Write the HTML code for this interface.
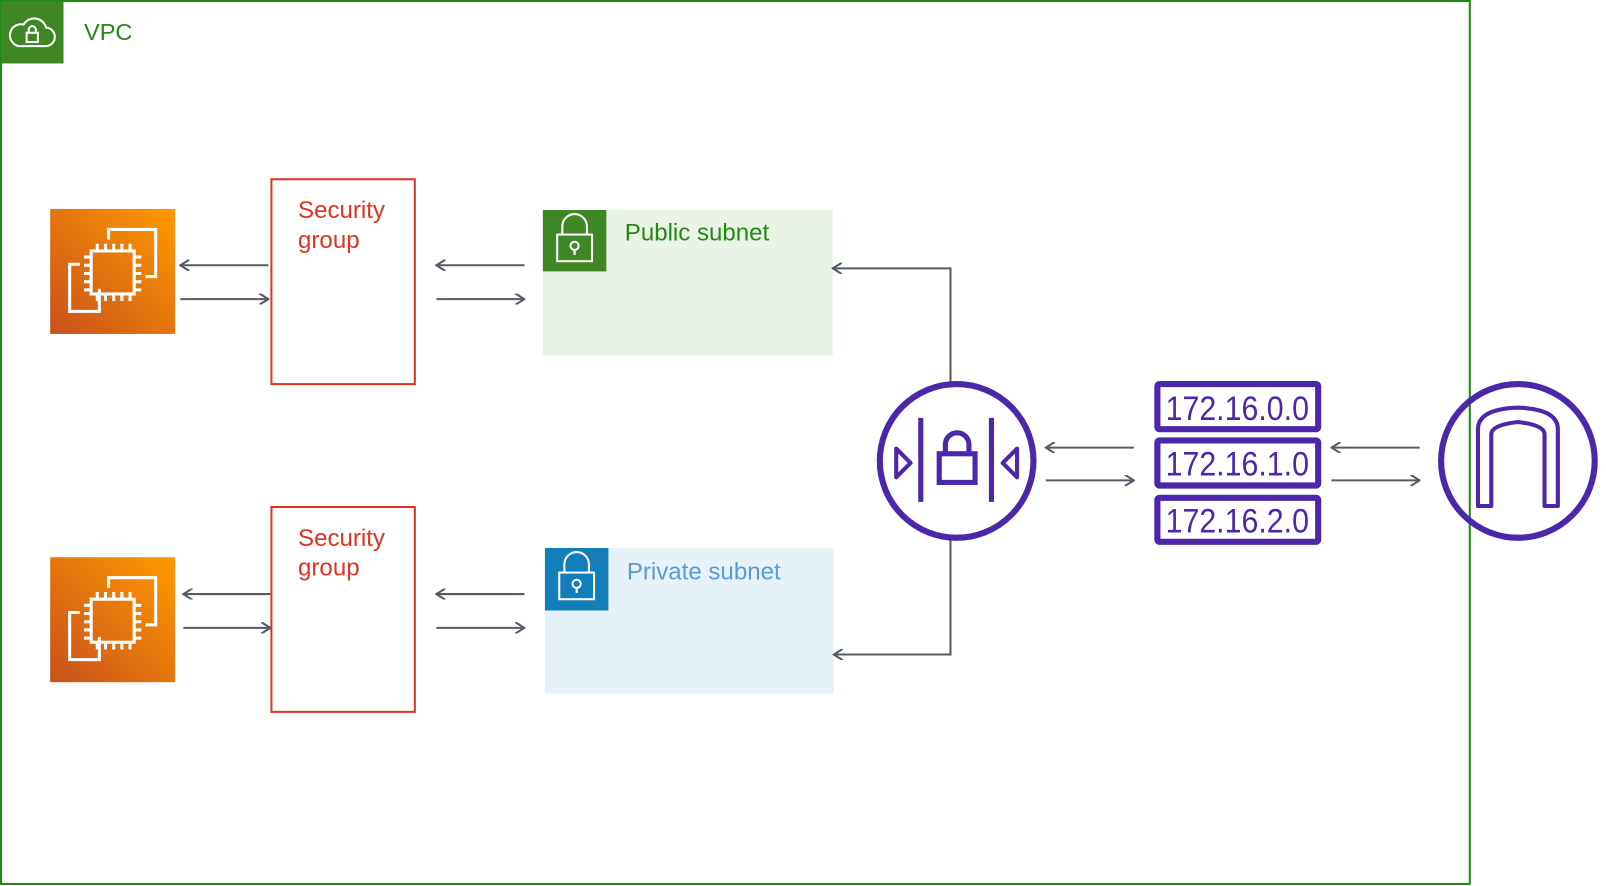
<!DOCTYPE html>
<html><head><meta charset="utf-8"><style>
html,body{margin:0;padding:0;background:#fff;}
svg{display:block;}
text{font-family:"Liberation Sans",sans-serif;}
</style></head><body>
<svg width="1606" height="886" viewBox="0 0 1568 865" preserveAspectRatio="none" xmlns="http://www.w3.org/2000/svg">
<defs>
<linearGradient id="og" x1="0" y1="1" x2="1" y2="0">
<stop offset="0" stop-color="#C8511B"/><stop offset="1" stop-color="#FF9900"/>
</linearGradient>
<marker id="ah" viewBox="0 0 10 10" refX="9" refY="5" markerWidth="11" markerHeight="11" markerUnits="userSpaceOnUse" orient="auto">
<path d="M1,0 L9,5 L1,10" fill="none" stroke="#545B64" stroke-width="1.8"/>
</marker>
<g id="ec2">
<rect width="122" height="122" fill="url(#og)"/>
<g fill="none" stroke="#fff" stroke-width="3">
<path d="M57,30 V20 H103 V66 H93"/>
<path d="M48,78 V100 H19 V54 H29"/>
<rect x="40" y="41" width="42" height="42"/>
<path d="M46,41v-7M54,41v-7M62,41v-7M70,41v-7M78,41v-7 M46,83v7M54,83v7M62,83v7M70,83v7M78,83v7 M40,47h-7M40,55h-7M40,63h-7M40,71h-7M40,79h-7 M82,47h7M82,55h7M82,63h7M82,71h7M82,79h7"/>
</g>
</g>
<g id="lock">
<path d="M19,24 V16 a12,12 0 0 1 24,0 V24" fill="none" stroke="#fff" stroke-width="2"/>
<rect x="14" y="24" width="34" height="26" fill="none" stroke="#fff" stroke-width="2"/>
<circle cx="31" cy="35" r="4" fill="none" stroke="#fff" stroke-width="2"/>
<path d="M31,39 V44" stroke="#fff" stroke-width="2"/>
</g>
</defs>

<rect x="1" y="1" width="1434" height="862" fill="none" stroke="#248814" stroke-width="2"/>
<rect x="1" y="1" width="61" height="61" fill="#3F8624"/>
<path d="M18,45 h26 a9,9 0 0 0 1,-18 a12,12 0 0 0 -22,-3 a9,9 0 0 0 -5,21z" fill="none" stroke="#fff" stroke-width="2"/>
<rect x="26" y="32" width="11" height="9" fill="none" stroke="#fff" stroke-width="2"/>
<path d="M28,32 v-3 a3.5,3.5 0 0 1 7,0 v3" fill="none" stroke="#fff" stroke-width="2"/>
<text x="82" y="39" font-size="23" fill="#248814">VPC</text>

<use href="#ec2" x="49" y="204"/>
<use href="#ec2" x="49" y="544"/>

<rect x="265" y="175" width="140" height="200" fill="none" stroke="#DD3522" stroke-width="2"/>
<text x="291" y="213" font-size="23.5" fill="#DD3522">Security</text>
<text x="291" y="242" font-size="23.5" fill="#DD3522">group</text>
<rect x="265" y="495" width="140" height="200" fill="none" stroke="#DD3522" stroke-width="2"/>
<text x="291" y="533" font-size="23.5" fill="#DD3522">Security</text>
<text x="291" y="562" font-size="23.5" fill="#DD3522">group</text>

<rect x="530" y="205" width="283" height="142" fill="#E9F3E6"/>
<rect x="530" y="205" width="62" height="60" fill="#3F8624"/>
<use href="#lock" x="530" y="205"/>
<text x="610" y="235" font-size="23.5" fill="#248814">Public subnet</text>
<rect x="532" y="535" width="282" height="142" fill="#E6F2F8"/>
<rect x="532" y="535" width="62" height="61" fill="#147EBA"/>
<use href="#lock" x="532" y="535"/>
<text x="612" y="566" font-size="23.5" fill="#5A9BD5">Private subnet</text>

<g stroke="#545B64" stroke-width="2" fill="none" marker-end="url(#ah)">
<path d="M262,259 H176"/><path d="M176,292 H262"/>
<path d="M512,259 H426"/><path d="M426,292 H512"/>
<path d="M264,580 H179"/><path d="M179,613 H264"/>
<path d="M512,580 H426"/><path d="M426,613 H512"/>
<path d="M928,374 V262 H813"/>
<path d="M928,527 V639 H814"/>
<path d="M1107,437 H1021"/><path d="M1021,469 H1107"/>
<path d="M1386,437 H1300"/><path d="M1300,469 H1386"/>
</g>

<g stroke="#4D27AA" fill="none">
<circle cx="934" cy="450" r="75" stroke-width="6"/>
<path d="M899,408 V490 M968,408 V490" stroke-width="5"/>
<rect x="917" y="443" width="35" height="28" stroke-width="5"/>
<path d="M923,443 v-9 a11,11 0 0 1 23,0 v9" stroke-width="5"/>
<path d="M875,438 L889,452 L875,466z M993,438 L979,452 L993,466z" stroke-width="4" stroke-linejoin="round"/>
</g>

<g stroke="#4D27AA" stroke-width="6" fill="#fff">
<rect x="1130" y="375" width="157" height="44" rx="2"/>
<rect x="1130" y="430" width="157" height="44" rx="2"/>
<rect x="1130" y="486" width="157" height="43" rx="2"/>
</g>
<g font-size="33" fill="#4D27AA" text-anchor="middle">
<text x="1208" y="410" textLength="140" lengthAdjust="spacingAndGlyphs">172.16.0.0</text>
<text x="1208" y="464" textLength="140" lengthAdjust="spacingAndGlyphs">172.16.1.0</text>
<text x="1208" y="520" textLength="140" lengthAdjust="spacingAndGlyphs">172.16.2.0</text>
</g>

<g stroke="#4D27AA" fill="none">
<circle cx="1482" cy="450" r="75" stroke-width="6"/>
<path d="M1443,494 V419 Q1443,406 1460,401 Q1482,395 1504,401 Q1521,406 1521,419 V494 H1508 V424 Q1508,415 1482,412 Q1456,415 1456,424 V494 Z" stroke-width="4" stroke-linejoin="round"/>
</g>
</svg>
</body></html>
